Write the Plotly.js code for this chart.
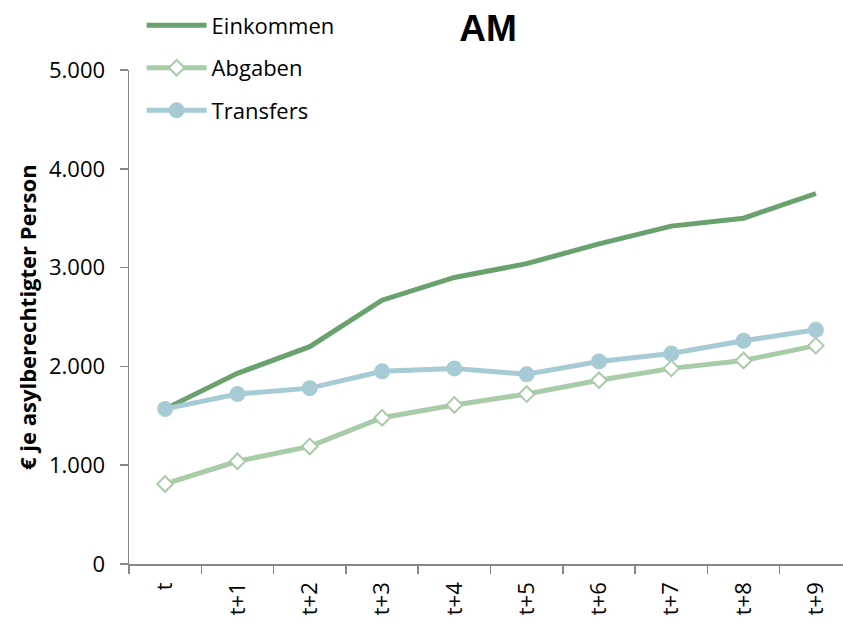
<!DOCTYPE html>
<html>
<head>
<meta charset="utf-8">
<script src="https://cdn.plot.ly/plotly-3.0.1.min.js"></script>
<style>html,body{margin:0;padding:0;background:#fff;}#chart{width:843px;height:619px;}</style>
</head>
<body>
<div id="chart"></div>
<script>
var categories = ["t", "t+1", "t+2", "t+3", "t+4", "t+5", "t+6", "t+7", "t+8", "t+9"];
var einkommen = [1570, 1930, 2200, 2670, 2900, 3040, 3240, 3420, 3500, 3750];
var abgaben   = [810, 1040, 1190, 1480, 1610, 1720, 1860, 1980, 2060, 2210];
var transfers = [1570, 1720, 1780, 1950, 1980, 1920, 2050, 2130, 2260, 2370];
var yTicks = [0, 1000, 2000, 3000, 4000, 5000];
var yTitle = "€ je asylberechtigter Person";

var fontFam = "'Open Sans', sans-serif";

var traces = [
  {x: categories, y: einkommen, name: "Einkommen", type: "scatter", mode: "lines",
   legendgroup: "a",
   line: {color: "#69A26E", width: 5}},
  {x: categories, y: abgaben, name: "Abgaben", type: "scatter", mode: "lines+markers",
   legendgroup: "b",
   line: {color: "#A9CCA8", width: 5},
   marker: {symbol: "diamond", size: 12, color: "#FFFFFF", line: {color: "#A9CCA8", width: 2}}},
  {x: categories, y: transfers, name: "Transfers", type: "scatter", mode: "lines+markers",
   legendgroup: "c",
   line: {color: "#A6CBD5", width: 5},
   marker: {symbol: "circle", size: 16, color: "#A6CBD5"}}
];

var layout = {
  width: 843, height: 619,
  margin: {l: 129, r: 0, t: 70, b: 55, pad: 0, autoexpand: false},
  paper_bgcolor: "#FFFFFF", plot_bgcolor: "#FFFFFF",
  separators: ",.",
  font: {family: fontFam, size: 22, color: "#000000"},
  title: {text: "<b>AM</b>", font: {family: "'Liberation Sans', Arial, sans-serif", size: 37, color: "#000"},
          x: 0.579, xref: "container", xanchor: "center", y: 0.955, yref: "container", yanchor: "middle"},
  showlegend: true,
  legend: {x: 0.168, xref: "container", xanchor: "left", y: 0.993, yref: "container", yanchor: "top",
           traceorder: "grouped", tracegroupgap: 11, itemwidth: 60,
           font: {family: fontFam, size: 22, color: "#000"}, bgcolor: "rgba(0,0,0,0)"},
  annotations: [{
    text: "<b>" + yTitle + "</b>", textangle: -90,
    xref: "paper", x: (27 - 129) / 714, xanchor: "center",
    yref: "paper", y: 0.5, yanchor: "middle",
    showarrow: false, font: {family: fontFam, size: 22, color: "#000"}
  }],
  xaxis: {
    type: "category", range: [-0.5, 9.375], autorange: false, automargin: false,
    showline: true, linecolor: "#878787", linewidth: 1.5,
    showgrid: false, zeroline: false,
    ticks: "outside", tickson: "boundaries", ticklen: 8, tickwidth: 1.5, tickcolor: "#878787",
    tickangle: -90, ticklabelstandoff: 8,
    tickfont: {family: fontFam, size: 22, color: "#000"},
    fixedrange: true
  },
  yaxis: {
    range: [0, 5000], autorange: false, automargin: false,
    tickvals: yTicks, tickformat: ",d",
    showline: true, linecolor: "#878787", linewidth: 1.5,
    showgrid: false, zeroline: false,
    ticks: "outside", ticklen: 8, tickwidth: 1.5, tickcolor: "#878787",
    ticklabelstandoff: 10,
    tickfont: {family: fontFam, size: 22, color: "#000"},
    fixedrange: true
  }
};

Plotly.newPlot("chart", traces, layout, {displayModeBar: false, staticPlot: true});
</script>
</body>
</html>
